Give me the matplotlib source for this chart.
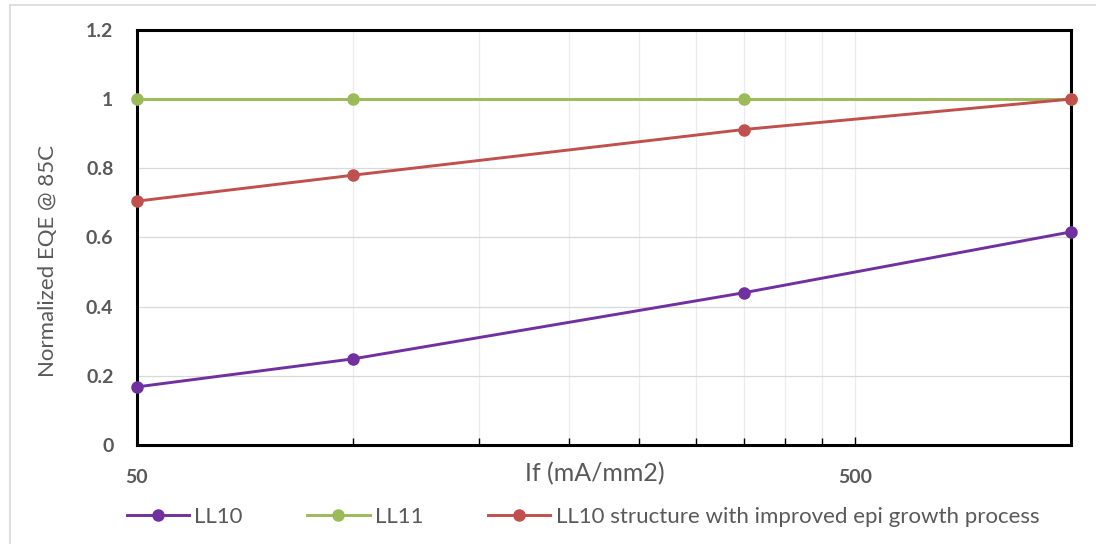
import matplotlib.pyplot as plt
from matplotlib.ticker import FixedLocator, NullFormatter, FuncFormatter
from matplotlib.lines import Line2D

plt.rcParams['font.family'] = ['Lato', 'DejaVu Sans']

current = [50, 100, 350, 1000]
ll10 = [0.168, 0.249, 0.44, 0.616]
ll11 = [1.0, 1.0, 1.0, 1.0]
ll10_epi = [0.705, 0.78, 0.912, 1.0]
names = ["LL10", "LL11", "LL10 structure with improved epi growth process"]
colors = ["#7030A0", "#9BBB59", "#C0504D"]

fig = plt.figure(figsize=(10.96, 5.44), dpi=100)
ax = fig.add_axes([0.125, 0.182, 0.852, 0.763])

for ys, name, c in zip([ll10, ll11, ll10_epi], names, colors):
    ax.plot(current, ys, color=c, lw=2.1, marker="o", ms=8, label=name,
            clip_on=False, zorder=3)

ax.set_xscale("log")
ax.set_xlim(50, 1000)
ax.set_ylim(0, 1.2)
ax.set_yticks([0, 0.2, 0.4, 0.6, 0.8, 1.0, 1.2])
ax.yaxis.set_major_formatter(FuncFormatter(lambda v, p: f"{v:g}"))
ax.xaxis.set_major_locator(FixedLocator([50, 500]))
ax.xaxis.set_major_formatter(FuncFormatter(lambda v, p: f"{v:g}"))
ax.xaxis.set_minor_locator(FixedLocator([50 * k for k in range(2, 10)] + [1000]))
ax.xaxis.set_minor_formatter(NullFormatter())

ax.grid(True, axis="y", which="major", color="#d9d9d9", lw=0.9, zorder=0)
ax.grid(True, axis="x", which="both", color="#ececec", lw=0.9, zorder=0)

for s in ax.spines.values():
    s.set_linewidth(2.2)
    s.set_color("black")

ax.tick_params(axis="y", length=0, pad=17, labelsize=14, labelcolor="#595959")
ax.tick_params(axis="x", which="major", direction="in", length=6, width=1,
               pad=17, labelsize=14, labelcolor="#595959")
ax.tick_params(axis="x", which="minor", direction="in", length=5, width=1)
for lab in ax.get_xticklabels() + ax.get_yticklabels():
    lab.set_fontweight("bold")

ax.set_ylabel("Normalized EQE @ 85C", fontsize=16, color="#595959")
ax.yaxis.set_label_coords(-0.095, 0.443)
ax.yaxis.label.set_va("center")
ax.set_xlabel("If (mA/mm2)", fontsize=18, color="#595959")
ax.xaxis.set_label_coords(0.49, -0.068)
ax.xaxis.label.set_va("center")

fig.legend(loc="center", bbox_to_anchor=(0.532, 0.05), ncol=3, frameon=False,
           fontsize=16, labelcolor="#595959", handlelength=2.8,
           columnspacing=2.9, handletextpad=0.25)

# light chart border
fig.add_artist(Line2D([0.0095, 0.0095], [0, 0.99], color="#d9d9d9", lw=1.2))
fig.add_artist(Line2D([0.0095, 1.0], [0.99, 0.99], color="#d9d9d9", lw=1.2))

fig.savefig("out.png", dpi=100)
